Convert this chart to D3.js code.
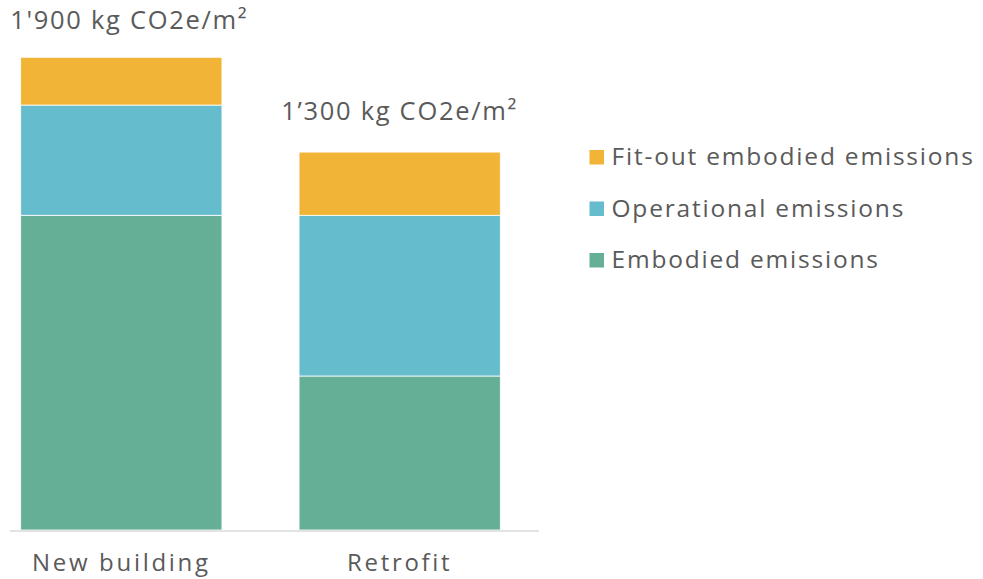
<!DOCTYPE html>
<html>
<head>
<meta charset="utf-8">
<script src="https://cdn.jsdelivr.net/npm/d3@7"></script>
<style>
  html, body { margin: 0; padding: 0; background: #ffffff; overflow: hidden; }
  svg { display: block; }
  text { font-family: "Open Sans", sans-serif; fill: #5a5a5a; }
</style>
</head>
<body>
<svg id="chart" width="983" height="579"></svg>
<script>
// ---- data ----
const categories = ["New building", "Retrofit"];
const seriesNames = ["Embodied emissions", "Operational emissions", "Fit-out embodied emissions"];
const embodied = [1265, 619];
const operational = [443, 646];
const fitout = [192, 254];
const totalLabels = ["1'900 kg CO2e/m²", "1’300 kg CO2e/m²"];
const legendOrder = ["Fit-out embodied emissions", "Operational emissions", "Embodied emissions"];

const colors = {
  "Embodied emissions": "#65af97",
  "Operational emissions": "#65bccd",
  "Fit-out embodied emissions": "#f1b436"
};

const rows = categories.map((c, i) => ({
  category: c,
  "Embodied emissions": embodied[i],
  "Operational emissions": operational[i],
  "Fit-out embodied emissions": fitout[i],
  label: totalLabels[i]
}));

const svg = d3.select("#chart");

const x = d3.scaleBand()
  .domain(categories)
  .range([20.7, 500.3])
  .paddingInner(0.277)
  .paddingOuter(0);

const y = d3.scaleLinear()
  .domain([0, 1900])
  .range([530, 57.3]);

const stack = d3.stack().keys(seriesNames);
const stacked = stack(rows);

// bars
const layers = svg.append("g").selectAll("g")
  .data(stacked)
  .join("g")
  .attr("fill", d => colors[d.key]);

layers.selectAll("rect")
  .data(d => d)
  .join("rect")
  .attr("x", d => x(d.data.category))
  .attr("width", x.bandwidth())
  .attr("y", d => y(d[1]))
  .attr("height", d => y(d[0]) - y(d[1]))
  .attr("stroke", "#ffffff")
  .attr("stroke-width", 0.8);

// baseline axis line
svg.append("line")
  .attr("x1", 10).attr("x2", 539)
  .attr("y1", y(0) + 1).attr("y2", y(0) + 1)
  .attr("stroke", "#e3e3e3")
  .attr("stroke-width", 2);

// category axis labels
const xAxis = d3.axisBottom(x).tickSize(0).tickPadding(0);
const gx = svg.append("g")
  .attr("transform", `translate(0, ${y(0)})`)
  .call(xAxis);
gx.select(".domain").remove();
gx.selectAll("text")
  .attr("y", 41)
  .attr("dy", 0)
  .style("font-size", "24px")
  .style("letter-spacing", "2.7px")
  .style("font-family", "'Open Sans', sans-serif")
  .attr("fill", "#5a5a5a");

// total labels above bars
const totals = rows.map(r => r["Embodied emissions"] + r["Operational emissions"] + r["Fit-out embodied emissions"]);
svg.append("g").selectAll("text")
  .data(rows)
  .join("text")
  .attr("x", (d, i) => x(d.category) + x.bandwidth() / 2 + (i === 0 ? 8 : 0))
  .attr("y", (d, i) => y(totals[i]) - (i === 0 ? 28.5 : 32))
  .attr("text-anchor", "middle")
  .style("font-size", "25.5px")
  .style("letter-spacing", "1.7px")
  .text(d => d.label);

// legend
const legend = svg.append("g").attr("transform", "translate(589.5, 0)");
const legendY = d3.scalePoint().domain(legendOrder).range([165, 268]);
const lg = legend.selectAll("g")
  .data(legendOrder)
  .join("g")
  .attr("transform", d => `translate(0, ${legendY(d)})`);
lg.append("rect")
  .attr("x", 0).attr("y", -15)
  .attr("width", 14.5).attr("height", 14.5)
  .attr("fill", d => colors[d]);
lg.append("text")
  .attr("x", 22)
  .attr("y", 0)
  .style("font-size", "24.5px")
  .style("letter-spacing", "1.8px")
  .text(d => d);
</script>
</body>
</html>
